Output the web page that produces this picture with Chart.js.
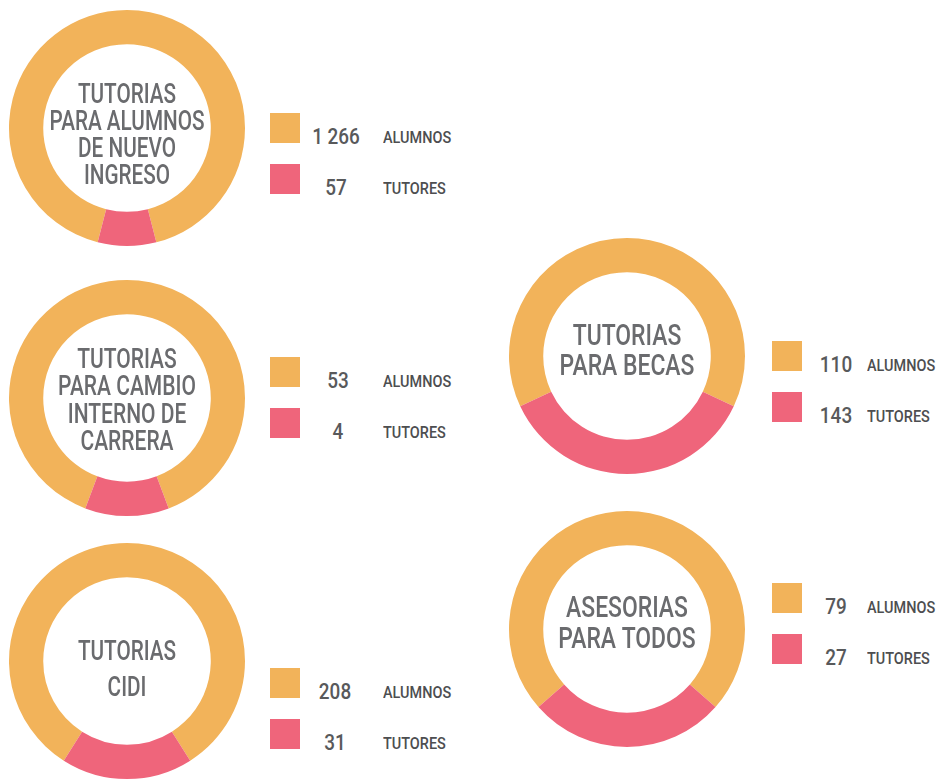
<!DOCTYPE html>
<html lang="es">
<head>
<meta charset="utf-8">
<title>Tutorías y asesorías</title>
<script src="https://cdn.jsdelivr.net/npm/chart.js@4.4.1/dist/chart.umd.min.js"></script>
<style>
  html, body { margin: 0; padding: 0; background: #fff; }
  body { width: 939px; height: 780px; position: relative; overflow: hidden; font-family: Roboto, "Noto Sans", sans-serif; }
  canvas { position: absolute; }
  .sq { position: absolute; width: 30px; height: 30px; }
  .num, .lbl { position: absolute; height: 24px; line-height: 24px; white-space: nowrap; }
  .num { font-size: 22px; font-weight: 500; color: #58595b; transform: translateX(-50%) scaleX(0.86); }
  .lbl { font-size: 17px; font-weight: 500; color: #4d4e50; transform-origin: left center; transform: scaleX(0.85); }
</style>
</head>
<body>
<script>
// --- datos ---
const groupTitles = [
  ['TUTORIAS', 'PARA ALUMNOS', 'DE NUEVO', 'INGRESO'],
  ['TUTORIAS', 'PARA CAMBIO', 'INTERNO DE', 'CARRERA'],
  ['TUTORIAS', 'CIDI'],
  ['TUTORIAS', 'PARA BECAS'],
  ['ASESORIAS', 'PARA TODOS']
];
const seriesLabels = ['ALUMNOS', 'TUTORES'];
const alumnos = [1266, 53, 208, 110, 79];
const tutores = [57, 4, 31, 143, 27];
// parte del anillo que ocupa el tramo rosa en la imagen (%), no es proporcional a los conteos
const ringTutoresPct = [8, 11.5, 18, 36, 27];

const colors = ['#F2B35A', '#EF657B'];

// --- posicion de cada bloque (px) ---
const layout = [
  { cx: 127, cy: 128, sqX: 270, sqY: 113, numX: 336, lblX: 383, size: 28, lh: 27,   sx: 0.74, dy: 8.5 },
  { cx: 127, cy: 398, sqX: 270, sqY: 357, numX: 338, lblX: 383, size: 28, lh: 27.3, sx: 0.75, dy: 4 },
  { cx: 127, cy: 661, sqX: 270, sqY: 668, numX: 335, lblX: 383, size: 28, lh: 36,   sx: 0.74, dy: 9.5 },
  { cx: 627, cy: 356, sqX: 772, sqY: 341, numX: 836, lblX: 867, size: 29, lh: 30,   sx: 0.79, dy: -3 },
  { cx: 627, cy: 629, sqX: 772, sqY: 583, numX: 836, lblX: 867, size: 29, lh: 31,   sx: 0.79, dy: -3.5 }
];
const R = 118;

const centerText = {
  id: 'centerText',
  afterDraw(chart, args, opts) {
    const { ctx, chartArea } = chart;
    const cx = (chartArea.left + chartArea.right) / 2;
    const cy = (chartArea.top + chartArea.bottom) / 2 + opts.dy;
    ctx.save();
    ctx.font = `500 ${opts.size}px Roboto`;
    ctx.fillStyle = '#6a6b6e';
    ctx.textAlign = 'center';
    ctx.textBaseline = 'middle';
    const n = opts.lines.length;
    opts.lines.forEach((line, i) => {
      const y = cy + (i - (n - 1) / 2) * opts.lh;
      ctx.save();
      ctx.translate(cx, y);
      ctx.scale(opts.sx, 1);
      ctx.fillText(line, 0, 0);
      ctx.restore();
    });
    ctx.restore();
  }
};

function addEl(cls, css, text) {
  const el = document.createElement('div');
  el.className = cls;
  Object.assign(el.style, css);
  if (text !== undefined) el.textContent = text;
  document.body.appendChild(el);
  return el;
}

groupTitles.forEach((lines, i) => {
  const L = layout[i];
  const canvas = document.createElement('canvas');
  canvas.width = R * 2;
  canvas.height = R * 2;
  canvas.style.left = (L.cx - R) + 'px';
  canvas.style.top = (L.cy - R) + 'px';
  document.body.appendChild(canvas);

  const pct = ringTutoresPct[i];
  new Chart(canvas.getContext('2d'), {
    type: 'doughnut',
    data: {
      labels: seriesLabels,
      datasets: [{
        data: [100 - pct, pct],
        backgroundColor: colors,
        borderWidth: 0
      }]
    },
    options: {
      responsive: false,
      animation: false,
      cutout: '71%',
      // el tramo rosa queda centrado abajo
      rotation: 180 * pct / 100 - 180,
      layout: { padding: 0 },
      events: [],
      plugins: {
        legend: { display: false },
        tooltip: { enabled: false },
        centerText: { lines: lines, size: L.size, lh: L.lh, sx: L.sx, dy: L.dy }
      }
    },
    plugins: [centerText]
  });

  // leyenda
  const values = [alumnos[i], tutores[i]];
  values.forEach((v, k) => {
    const top = L.sqY + k * 51;
    addEl('sq', { left: L.sqX + 'px', top: top + 'px', background: colors[k] });
    const txt = v >= 1000 ? String(v).replace(/(\d)(?=(\d{3})$)/, '$1 ') : String(v);
    addEl('num', { left: L.numX + 'px', top: (top + 15 + 9 - 12) + 'px' }, txt);
    addEl('lbl', { left: L.lblX + 'px', top: (top + 15 + 9 - 12) + 'px' }, seriesLabels[k]);
  });
});
</script>
</body>
</html>
